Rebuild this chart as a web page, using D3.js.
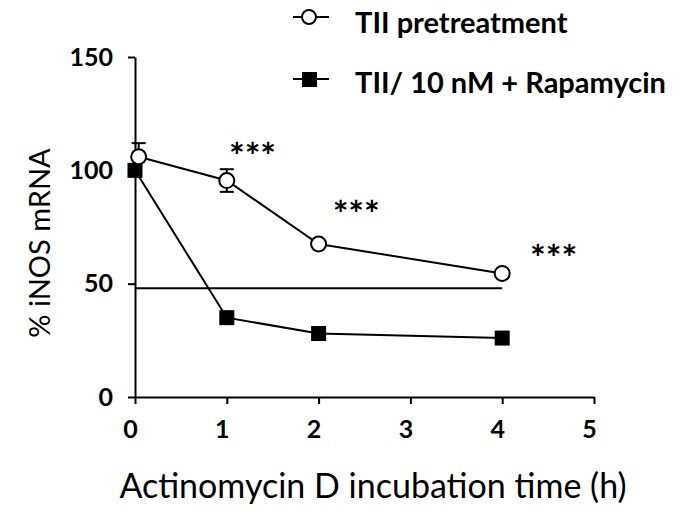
<!DOCTYPE html>
<html>
<head>
<script src="https://d3js.org/d3.v7.min.js"></script>
<meta charset="utf-8">
<title>iNOS mRNA</title>
<style>
  body { margin: 0; background: #fff; }
  text { font-family: Lato, "Open Sans", sans-serif; }
</style>
</head>
<body>
<svg width="685" height="522"></svg>
<script>
// data
var timesCircle = [0.04, 1, 2, 4];
var tiiPre = [106, 95.5, 67.5, 54.5];
var tiiPreErr = [6, 5, 0, 0];
var timesSquare = [0, 1, 2, 4];
var tiiRapa = [100, 35, 28, 26];
var refLevel = 48;
// where the *** labels sit (x in hours, y in %)
var starsX = [1.28, 2.41, 4.56];
var starsY = [109, 83.5, 64];
var xTicks = [0, 1, 2, 3, 4, 5];
var yTicks = [0, 50, 100, 150];

var svg = d3.select('svg');

var x = d3.scaleLinear().domain([0, 5]).range([135, 594]);
var y = d3.scaleLinear().domain([0, 150]).range([397, 57]);

// axes
var xAxis = svg.append('g')
  .attr('transform', 'translate(0,' + y(0) + ')')
  .call(d3.axisBottom(x).tickValues(xTicks).tickFormat(d3.format('d'))
    .tickSize(7).tickSizeOuter(0).tickPadding(16));
var yAxis = svg.append('g')
  .attr('transform', 'translate(' + x(0) + ',0)')
  .call(d3.axisLeft(y).tickValues(yTicks).tickFormat(d3.format('d'))
    .tickSize(7).tickSizeOuter(0).tickPadding(15));

[xAxis, yAxis].forEach(function(g) {
  g.select('.domain').attr('stroke', '#000').attr('stroke-width', 2);
  g.selectAll('.tick line').attr('stroke', '#000').attr('stroke-width', 2);
  g.selectAll('.tick text')
    .attr('fill', '#000')
    .style('font-family', 'Lato, sans-serif')
    .style('font-weight', 'bold')
    .style('font-size', '25px');
});
xAxis.selectAll('.tick text').attr('dx', -5);

// reference line
svg.append('line')
  .attr('x1', x(0)).attr('x2', x(4))
  .attr('y1', y(refLevel)).attr('y2', y(refLevel))
  .attr('stroke', '#000').attr('stroke-width', 2);

var line = d3.line().x(function(d) { return x(d[0]); }).y(function(d) { return y(d[1]); });

// rapamycin series
var rapa = d3.zip(timesSquare, tiiRapa);
svg.append('path').datum(rapa)
  .attr('d', line).attr('fill', 'none').attr('stroke', '#000').attr('stroke-width', 2);
svg.selectAll('.sq').data(rapa).enter().append('rect')
  .attr('class', 'sq')
  .attr('x', function(d) { return x(d[0]) - 7.5; })
  .attr('y', function(d) { return y(d[1]) - 7.5; })
  .attr('width', 15).attr('height', 15)
  .attr('fill', '#000');

// pretreatment series
var pre = d3.zip(timesCircle, tiiPre, tiiPreErr);
svg.append('path').datum(pre)
  .attr('d', line).attr('fill', 'none').attr('stroke', '#000').attr('stroke-width', 2);

// error bars
pre.filter(function(d) { return d[2] > 0; }).forEach(function(d) {
  var g = svg.append('g').attr('stroke', '#000').attr('stroke-width', 2);
  g.append('line').attr('x1', x(d[0])).attr('x2', x(d[0]))
    .attr('y1', y(d[1] - d[2])).attr('y2', y(d[1] + d[2]));
  g.append('line').attr('x1', x(d[0]) - 7).attr('x2', x(d[0]) + 7)
    .attr('y1', y(d[1] + d[2])).attr('y2', y(d[1] + d[2]));
  if (d[0] > 0.5) {
    g.append('line').attr('x1', x(d[0]) - 7).attr('x2', x(d[0]) + 7)
      .attr('y1', y(d[1] - d[2])).attr('y2', y(d[1] - d[2]));
  }
});

svg.selectAll('.ci').data(pre).enter().append('circle')
  .attr('class', 'ci')
  .attr('cx', function(d) { return x(d[0]); })
  .attr('cy', function(d) { return y(d[1]); })
  .attr('r', 7.5)
  .attr('fill', '#fff').attr('stroke', '#000').attr('stroke-width', 2);

// significance stars
svg.selectAll('.star').data(d3.zip(starsX, starsY)).enter().append('text')
  .attr('class', 'star')
  .attr('x', function(d) { return x(d[0]); })
  .attr('y', function(d) { return y(d[1]) + 19; })
  .attr('text-anchor', 'middle')
  .style('font-size', '37px')
  .style('font-weight', 'bold')
  .text('***');

// legend
var legend = svg.append('g');
legend.append('line').attr('x1', 293).attr('x2', 329).attr('y1', 17).attr('y2', 17)
  .attr('stroke', '#000').attr('stroke-width', 2);
legend.append('circle').attr('cx', 309).attr('cy', 17).attr('r', 7)
  .attr('fill', '#fff').attr('stroke', '#000').attr('stroke-width', 2);
legend.append('text').attr('x', 355).attr('y', 33)
  .style('font-size', '29px').style('font-weight', 'bold').text('TII pretreatment');

legend.append('line').attr('x1', 293).attr('x2', 329).attr('y1', 79).attr('y2', 79)
  .attr('stroke', '#000').attr('stroke-width', 2);
legend.append('rect').attr('x', 302).attr('y', 72).attr('width', 15).attr('height', 15)
  .attr('fill', '#000');
legend.append('text').attr('x', 355).attr('y', 93)
  .style('font-size', '29px').style('font-weight', 'bold').text('TII/ 10 nM + Rapamycin');

// axis titles
svg.append('text')
  .attr('transform', 'translate(50,243) rotate(-90)')
  .attr('text-anchor', 'middle')
  .style('font-size', '29px')
  .text('% iNOS mRNA');
svg.append('text')
  .attr('x', 373).attr('y', 498)
  .attr('text-anchor', 'middle')
  .style('font-size', '34px')
  .text('Actinomycin D incubation time (h)');
</script>
</body>
</html>
